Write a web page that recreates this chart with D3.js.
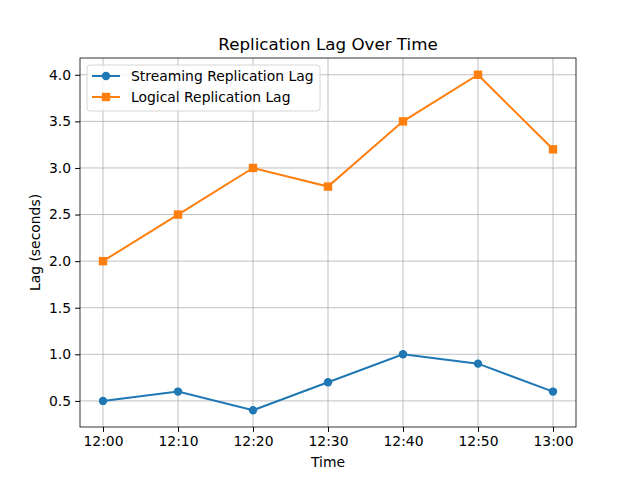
<!DOCTYPE html>
<html>
<head>
<meta charset="utf-8">
<script src="https://cdn.jsdelivr.net/npm/d3@7"></script>
<style>
body { margin: 0; background: #fff; }
text { font-family: "DejaVu Sans", sans-serif; }
</style>
</head>
<body>
<div id="root"></div>
<script>
const times = ['12:00', '12:10', '12:20', '12:30', '12:40', '12:50', '13:00'];
const streaming = [0.5, 0.6, 0.4, 0.7, 1.0, 0.9, 0.6];
const logical = [2.0, 2.5, 3.0, 2.8, 3.5, 4.0, 3.2];
const yTicks = [0.5, 1.0, 1.5, 2.0, 2.5, 3.0, 3.5, 4.0];

const margin = {left: 80, right: 576, top: 58, bottom: 427};
const fs = 13.9;

const svg = d3.select('#root').append('svg')
  .attr('width', 640).attr('height', 480);

const x = d3.scalePoint().domain(times).range([103, 553]);
const y = d3.scaleLinear().domain([0.22, 4.18]).range([margin.bottom, margin.top]);

// grid
svg.append('g').selectAll('line').data(times).enter().append('line')
  .attr('x1', d => x(d)).attr('x2', d => x(d))
  .attr('y1', margin.top).attr('y2', margin.bottom)
  .attr('stroke', '#b0b0b0').attr('stroke-width', 0.8);
svg.append('g').selectAll('line').data(yTicks).enter().append('line')
  .attr('x1', margin.left).attr('x2', margin.right)
  .attr('y1', d => y(d)).attr('y2', d => y(d))
  .attr('stroke', '#b0b0b0').attr('stroke-width', 0.8);

// axes
const xAxis = svg.append('g').attr('transform', `translate(0,${margin.bottom})`)
  .call(d3.axisBottom(x).tickSize(4.9).tickPadding(4));
const yAxis = svg.append('g').attr('transform', `translate(${margin.left},0)`)
  .call(d3.axisLeft(y).tickValues(yTicks).tickFormat(d3.format('.1f')).tickSize(4.9).tickPadding(4));
[xAxis, yAxis].forEach(a => {
  a.select('.domain').remove();
  a.selectAll('text').attr('font-size', fs).attr('fill', '#000')
    .style('font-family', '"DejaVu Sans", sans-serif');
});

svg.append('rect')
  .attr('x', margin.left).attr('y', margin.top)
  .attr('width', margin.right - margin.left).attr('height', margin.bottom - margin.top)
  .attr('fill', 'none').attr('stroke', '#000').attr('stroke-width', 0.8);

const line = d3.line().x((d, i) => x(times[i])).y(d => y(d));

svg.append('path').datum(streaming).attr('d', line)
  .attr('fill', 'none').attr('stroke', '#1f77b4').attr('stroke-width', 2);
svg.append('g').selectAll('circle').data(streaming).enter().append('circle')
  .attr('cx', (d, i) => x(times[i])).attr('cy', d => y(d)).attr('r', 4.2)
  .attr('fill', '#1f77b4');

svg.append('path').datum(logical).attr('d', line)
  .attr('fill', 'none').attr('stroke', '#ff7f0e').attr('stroke-width', 2);
svg.append('g').selectAll('rect').data(logical).enter().append('rect')
  .attr('x', (d, i) => x(times[i]) - 4.2).attr('y', d => y(d) - 4.2)
  .attr('width', 8.4).attr('height', 8.4).attr('fill', '#ff7f0e');

// titles
svg.append('text').attr('x', 328).attr('y', 50).attr('text-anchor', 'middle')
  .attr('font-size', 16.7).text('Replication Lag Over Time');
svg.append('text').attr('x', 328).attr('y', 467).attr('text-anchor', 'middle')
  .attr('font-size', fs).text('Time');
svg.append('text').attr('transform', 'translate(40,242.5) rotate(-90)')
  .attr('text-anchor', 'middle').attr('font-size', fs).text('Lag (seconds)');

// legend
const lg = svg.append('g');
lg.append('rect').attr('x', 87).attr('y', 65).attr('width', 233).attr('height', 46)
  .attr('rx', 3).attr('fill', '#fff').attr('fill-opacity', 0.8)
  .attr('stroke', '#ccc').attr('stroke-width', 0.8);
lg.append('line').attr('x1', 92).attr('x2', 120).attr('y1', 76).attr('y2', 76)
  .attr('stroke', '#1f77b4').attr('stroke-width', 2);
lg.append('circle').attr('cx', 106).attr('cy', 76).attr('r', 4.2).attr('fill', '#1f77b4');
lg.append('text').attr('x', 131).attr('y', 81).attr('font-size', fs).text('Streaming Replication Lag');
lg.append('line').attr('x1', 92).attr('x2', 120).attr('y1', 97).attr('y2', 97)
  .attr('stroke', '#ff7f0e').attr('stroke-width', 2);
lg.append('rect').attr('x', 101.8).attr('y', 92.8).attr('width', 8.4).attr('height', 8.4).attr('fill', '#ff7f0e');
lg.append('text').attr('x', 131).attr('y', 102).attr('font-size', fs).text('Logical Replication Lag');
</script>
</body>
</html>
